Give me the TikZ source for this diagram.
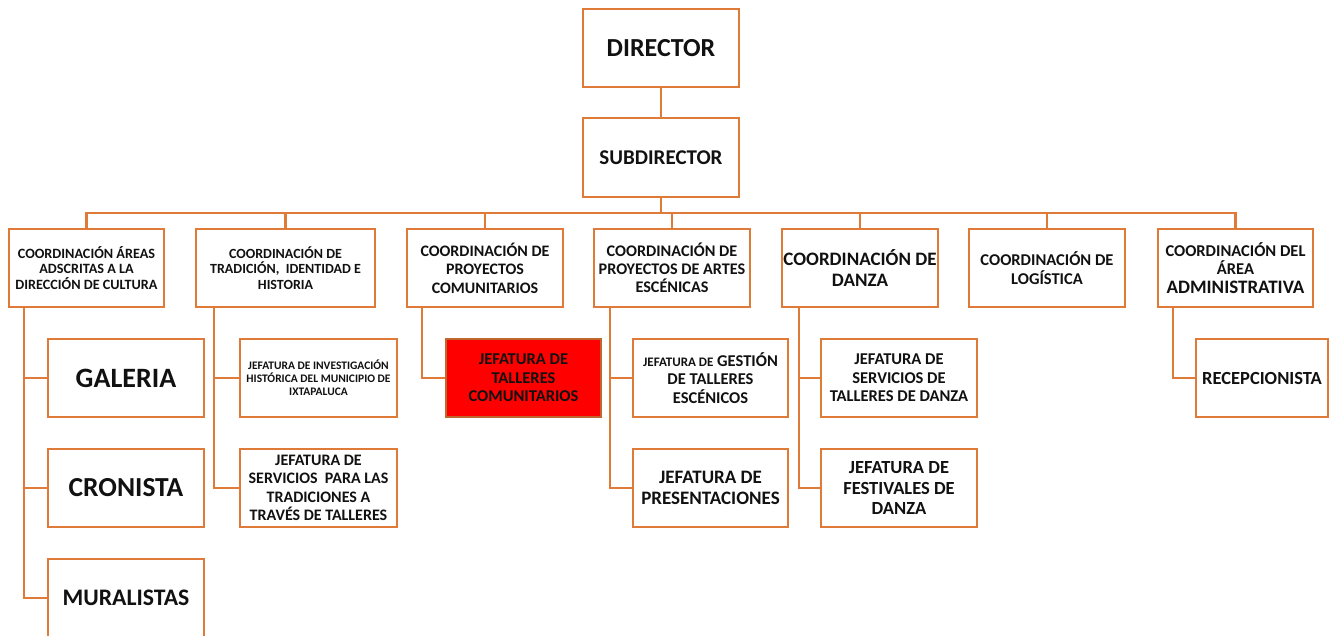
\documentclass[tikz,border=0pt]{standalone}
\usepackage{fontspec}
\setmainfont{Carlito}
\definecolor{lineorange}{HTML}{E07A38}
\definecolor{inkblack}{HTML}{111111}
\definecolor{alertred}{HTML}{FF0000}
\newcommand{\fs}[2]{\fontsize{#1}{#2}\selectfont}
\tikzset{
  box/.style={draw=lineorange, line width=2.4pt, fill=white, inner sep=0pt,
    align=center, text=inkblack, font=\bfseries},
  link/.style={draw=lineorange, line width=2.2pt},
}
\begin{document}
\begin{tikzpicture}[x=1pt, y=-1pt]
\useasboundingbox (0,0) rectangle (1339,635);

% top of the chart
\node[box, minimum width=156pt, minimum height=78pt, font=\bfseries\fs{26}{28}] (dir) at (661,48) {DIRECTOR};
\node[box, minimum width=156pt, minimum height=79pt, font=\bfseries\fs{21}{23}] (sub) at (661,157.5) {SUBDIRECTOR};

% coordinations
\node[box, minimum width=155pt, minimum height=78pt, font=\bfseries\fs{14.2}{15.6}] (c1) at (86.5,268)
  {COORDINACIÓN ÁREAS\\ADSCRITAS A LA\\DIRECCIÓN DE CULTURA};
\node[box, minimum width=179pt, minimum height=78pt, font=\bfseries\fs{14}{15.6}] (c2) at (285.5,268)
  {COORDINACIÓN DE\\TRADICIÓN,\ \ IDENTIDAD E\\HISTORIA};
\node[box, minimum width=156pt, minimum height=78pt, font=\bfseries\fs{16}{18.5}] (c3) at (485,268)
  {COORDINACIÓN DE\\PROYECTOS\\COMUNITARIOS};
\node[box, minimum width=156pt, minimum height=78pt, font=\bfseries\fs{16.2}{18}] (c4) at (672,268)
  {COORDINACIÓN DE\\PROYECTOS DE ARTES\\ESCÉNICAS};
\node[box, minimum width=156pt, minimum height=78pt, font=\bfseries\fs{19}{21}] (c5) at (860,268)
  {COORDINACIÓN DE\\DANZA};
\node[box, minimum width=156pt, minimum height=78pt, font=\bfseries\fs{16.5}{18.5}] (c6) at (1047,268)
  {COORDINACIÓN DE\\LOGÍSTICA};
\node[box, minimum width=155pt, minimum height=78pt, font=\bfseries\fs{16.5}{18.5}] (c7) at (1235.5,268)
  {COORDINACIÓN DEL\\ÁREA\\{\fs{19}{18.5}ADMINISTRATIVA}};

% units under each coordination
\node[box, minimum width=156pt, minimum height=78pt, font=\bfseries\fs{28}{30}] (gal) at (126,378) {GALERIA};
\node[box, minimum width=156pt, minimum height=78pt, font=\bfseries\fs{27.5}{30}] (cro) at (126,488) {CRONISTA};
\node[box, minimum width=156pt, minimum height=78pt, font=\bfseries\fs{23.7}{26}] (mur) at (126,598) {MURALISTAS};

\node[box, minimum width=157pt, minimum height=78pt, font=\bfseries\fs{11.5}{12.8}] (inv) at (318.5,378)
  {JEFATURA DE INVESTIGACIÓN\\HISTÓRICA DEL MUNICIPIO DE\\IXTAPALUCA};
\node[box, minimum width=157pt, minimum height=78pt, font=\bfseries\fs{16}{18.5}] (ser) at (318.5,488)
  {JEFATURA DE\\SERVICIOS\ \ PARA LAS\\TRADICIONES A\\TRAVÉS DE TALLERES};

\node[box, fill=alertred, draw=lineorange!85!black, minimum width=155pt, minimum height=78pt, font=\bfseries\fs{16.5}{18.5}] (tal) at (523.5,378)
  {JEFATURA DE\\TALLERES\\COMUNITARIOS};

\node[box, minimum width=155pt, minimum height=78pt, font=\bfseries\fs{16.5}{18.5}] (ges) at (710.5,378)
  {{\fs{13}{18.5}JEFATURA DE} GESTIÓN\\DE TALLERES\\ESCÉNICOS};
\node[box, minimum width=155pt, minimum height=78pt, font=\bfseries\fs{19}{20.5}] (pre) at (710.5,488)
  {JEFATURA DE\\PRESENTACIONES};

\node[box, minimum width=156pt, minimum height=78pt, font=\bfseries\fs{16.5}{18.5}] (sdz) at (899,378)
  {JEFATURA DE\\SERVICIOS DE\\TALLERES DE DANZA};
\node[box, minimum width=156pt, minimum height=78pt, font=\bfseries\fs{18.5}{20.5}] (fes) at (899,488)
  {JEFATURA DE\\FESTIVALES DE\\DANZA};

\node[box, minimum width=132pt, minimum height=78pt, font=\bfseries\fs{18.5}{20}] (rec) at (1262,378) {RECEPCIONISTA};

% bus line height and the x position of each trunk
\coordinate (bus) at (0,213);
\coordinate (t1) at (24,0);
\coordinate (t2) at (214,0);
\coordinate (t3) at (422,0);
\coordinate (t4) at (610,0);
\coordinate (t5) at (799,0);
\coordinate (t7) at (1173,0);

% connectors
\draw[link] (dir.south) -- (sub.north);
\foreach \c in {c1,c2,c3,c4,c5,c6,c7}
  \draw[link] (sub.south) -- (sub.south |- bus) -| (\c.north);

\draw[link] (c1.south -| t1) |- (gal.west);
\draw[link] (c1.south -| t1) |- (cro.west);
\draw[link] (c1.south -| t1) |- (mur.west);
\draw[link] (c2.south -| t2) |- (inv.west);
\draw[link] (c2.south -| t2) |- (ser.west);
\draw[link] (c3.south -| t3) |- (tal.west);
\draw[link] (c4.south -| t4) |- (ges.west);
\draw[link] (c4.south -| t4) |- (pre.west);
\draw[link] (c5.south -| t5) |- (sdz.west);
\draw[link] (c5.south -| t5) |- (fes.west);
\draw[link] (c7.south -| t7) |- (rec.west);
\end{tikzpicture}
\end{document}
